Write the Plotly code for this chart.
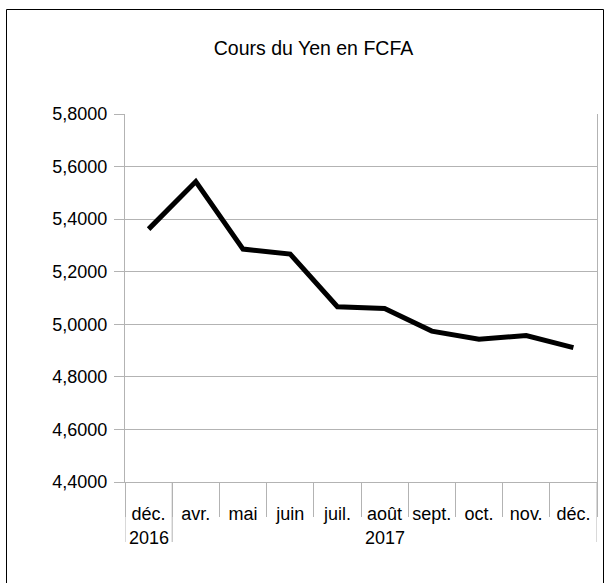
import plotly.graph_objects as go

years = ["2016", "2017", "2017", "2017", "2017", "2017", "2017", "2017", "2017", "2017"]
months = ["déc.", "avr.", "mai", "juin", "juil.", "août", "sept.", "oct.", "nov.", "déc.\u200b"]
values = [5.362, 5.543, 5.286, 5.267, 5.067, 5.060, 4.974, 4.943, 4.957, 4.911]
y_ticks = [4.4, 4.6, 4.8, 5.0, 5.2, 5.4, 5.6, 5.8]
title = "Cours du Yen en FCFA"

W, H = 611, 583
L, R, T, B = 125, 14, 114, 101
pw, ph = W - L - R, H - T - B

grey = "#b3b3b3"
fig = go.Figure()
fig.add_trace(go.Scatter(
    x=months, y=values, mode="lines",
    line=dict(color="black", width=5), showlegend=False,
))

def px_to_paper_x(px):
    return (px - L) / pw

def px_to_paper_y(py):
    return (H - B - py) / ph

# outer border
fig.add_shape(type="rect", xref="paper", yref="paper",
              x0=px_to_paper_x(6.5), x1=px_to_paper_x(603.5),
              y0=px_to_paper_y(595), y1=px_to_paper_y(9.5),
              line=dict(color="black", width=1), layer="below")

# year groups: dividers and centred labels
groups = []
for i, yv in enumerate(years):
    if groups and groups[-1][0] == yv:
        groups[-1][2] = i
    else:
        groups.append([yv, i, i])
bounds = sorted({g[1] - 0.5 for g in groups} | {g[2] + 0.5 for g in groups})
for b in bounds:
    fig.add_shape(type="line", xref="x", yref="paper", x0=b, x1=b,
                  y0=0, y1=-60 / ph, line=dict(color=grey, width=1))
for yv, a, z in groups:
    fig.add_annotation(x=(a + z) / 2, xref="x", y=0, yref="paper",
                       yanchor="middle", yshift=-55.5, text=yv, showarrow=False,
                       font=dict(size=18))

fig.update_layout(
    width=W, height=H,
    margin=dict(l=L, r=R, t=T, b=B),
    paper_bgcolor="white", plot_bgcolor="white",
    separators=", ",
    font=dict(family="Liberation Sans, Arial, sans-serif", size=18, color="black"),
    title=dict(text=title, x=313.5 / W, xref="container", xanchor="center",
               y=1 - 48.5 / H, yanchor="middle", font=dict(size=19.5)),
    xaxis=dict(
        type="category", showgrid=False, range=[-0.5, len(months) - 0.5],
        showline=True, linecolor=grey, linewidth=1,
        ticks="outside", tickson="boundaries", ticklen=34, tickcolor=grey, tickwidth=1,
        tickfont=dict(size=18), ticklabelstandoff=15, tickangle=0,
    ),
    yaxis=dict(
        range=[4.4, 5.8], tickvals=y_ticks, tickformat=".4f",
        showgrid=True, gridcolor=grey, gridwidth=1,
        showline=True, linecolor=grey, linewidth=1, mirror=True,
        ticks="outside", ticklen=10, tickcolor=grey, tickwidth=1,
        zeroline=False, tickfont=dict(size=18), ticklabelstandoff=3,
    ),
)

fig.write_html("out.html", config={"displayModeBar": False},
               post_script="document.body.style.margin='0';document.body.style.overflow='hidden';")
